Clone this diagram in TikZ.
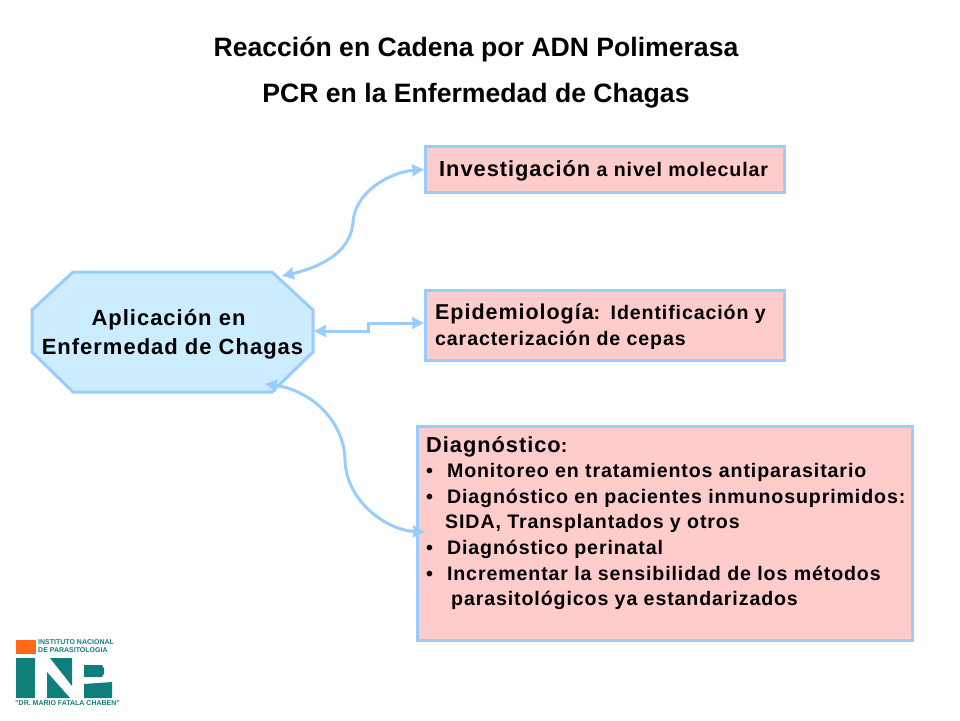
\documentclass[tikz,border=0pt]{standalone}
\usepackage{fontspec}
\setmainfont{Liberation Sans}
\newfontfamily\bodyfont[LetterSpace=4.5]{Liberation Sans}
\usepackage{tikz}
\usetikzlibrary{arrows.meta}
\definecolor{edgeblue}{HTML}{99CCFF}
\definecolor{boxpink}{HTML}{FFCCCC}
\definecolor{octblue}{HTML}{CCECFF}
\definecolor{logoteal}{HTML}{0F7F7C}
\definecolor{logoorange}{HTML}{FF6A1A}
\tikzset{
    titletext/.style={font=\fontsize{26.6}{30}\bfseries, text=black, inner sep=0pt},
    pinkbox/.style={draw=edgeblue, line width=3pt, fill=boxpink, inner sep=0pt, anchor=north west},
    boxtext/.style={font=\bodyfont\fontsize{19.6}{25.6}\bfseries, align=left, inner sep=0pt, anchor=north west},
    link/.style={draw=edgeblue, line width=3pt, {Stealth[length=12pt,width=12pt,inset=1pt]}-{Stealth[length=12pt,width=12pt,inset=1pt]}},
    logotext/.style={font=\fontsize{7}{8.5}\bfseries, text=logoteal, inner sep=0pt, align=left},
}
\begin{document}
\begin{tikzpicture}[x=1pt,y=-1pt]
    \useasboundingbox (0,0) rectangle (960,720);
    \node[titletext] (title1) at (476,49.5) {Reacción en Cadena por ADN Polimerasa};
    \node[titletext] (title2) at (476,95.5) {PCR en la Enfermedad de Chagas};

    % Central octagon
    \draw[edgeblue, line width=3pt, fill=octblue] (73,272) -- (272,272) -- (313,310) -- (313,352) -- (272,392) -- (73,392) -- (32,352) -- (32,310) -- cycle;
    \node[minimum width=281pt, minimum height=120pt, inner sep=0pt, align=center, font=\bodyfont\fontsize{22}{29}\bfseries] (aplic) at (172.5,334)
        {\hspace{-8pt}Aplicación en\\Enfermedad de Chagas};

    % Boxes
    \node[pinkbox, minimum width=359pt, minimum height=46pt] (invest) at (424,145) {};
    \node[pinkbox, minimum width=359pt, minimum height=70pt] (epid) at (424,289) {};
    \node[pinkbox, minimum width=495pt, minimum height=214pt] (diag) at (416,425) {};

    \node[boxtext] (investtext) at (439,160) {{\fontsize{21.8}{25}\selectfont Investigación} a nivel molecular};
    \node[boxtext] (epidtext) at (435,304) {{\fontsize{21.5}{25}\selectfont Epidemiología}:\hspace{2pt} Identificación y\\caracterización de cepas};
    \node[boxtext] (diagtext) at (426,436) {{\fontsize{21.8}{25}\selectfont Diagnóstico}:\\
        •\hspace{14pt}Monitoreo en tratamientos antiparasitario\\
        •\hspace{14pt}Diagnóstico en pacientes inmunosuprimidos:\\
        \hspace{19pt}SIDA, Transplantados y otros\\
        •\hspace{14pt}Diagnóstico perinatal\\
        •\hspace{14pt}Incrementar la sensibilidad de los métodos\\
        \hspace{25pt}parasitológicos ya estandarizados};

    % Connectors
    \coordinate (octtop) at (282,276);
    \coordinate (octbottom) at (265,384);
    \coordinate (diagleft) at (425,532);
    \coordinate (epidleft) at (424,323);
    \coordinate (octright) at (314,331);
    \draw[link] (octtop) .. controls (325,266) and (351,250) .. (353,222) .. controls (355,192) and (390,172) .. (invest.west);
    \draw[link] (octright) -- (368,331) -- (368,323) -- (epidleft);
    \draw[link] (octbottom) .. controls (310,390) and (344,420) .. (345,460) .. controls (346,500) and (385,530) .. (diagleft);

    % Logo
    \fill[logoorange] (16,640) rectangle (36,654);
    \fill[logoteal] (16,658) rectangle (35,698);
    \fill[logoteal] (47,672) -- (70,698) -- (47,698) -- cycle;
    \fill[logoteal] (50,658) -- (72,658) -- (72,686) -- cycle;
    \fill[logoteal] (84,665) -- (102,665) to[bend left=40] (102,677) -- (84,677) -- cycle;
    \fill[logoteal] (84,684) -- (112,682) -- (112,698) -- (84,698) -- cycle;
    \node[logotext, anchor=north west] (logotop) at (38,639) {INSTITUTO NACIONAL\\DE PARASITOLOGIA};
    \node[logotext, anchor=west] (logobottom) at (15,703) {"DR. MARIO FATALA CHABEN"};
\end{tikzpicture}
\end{document}
